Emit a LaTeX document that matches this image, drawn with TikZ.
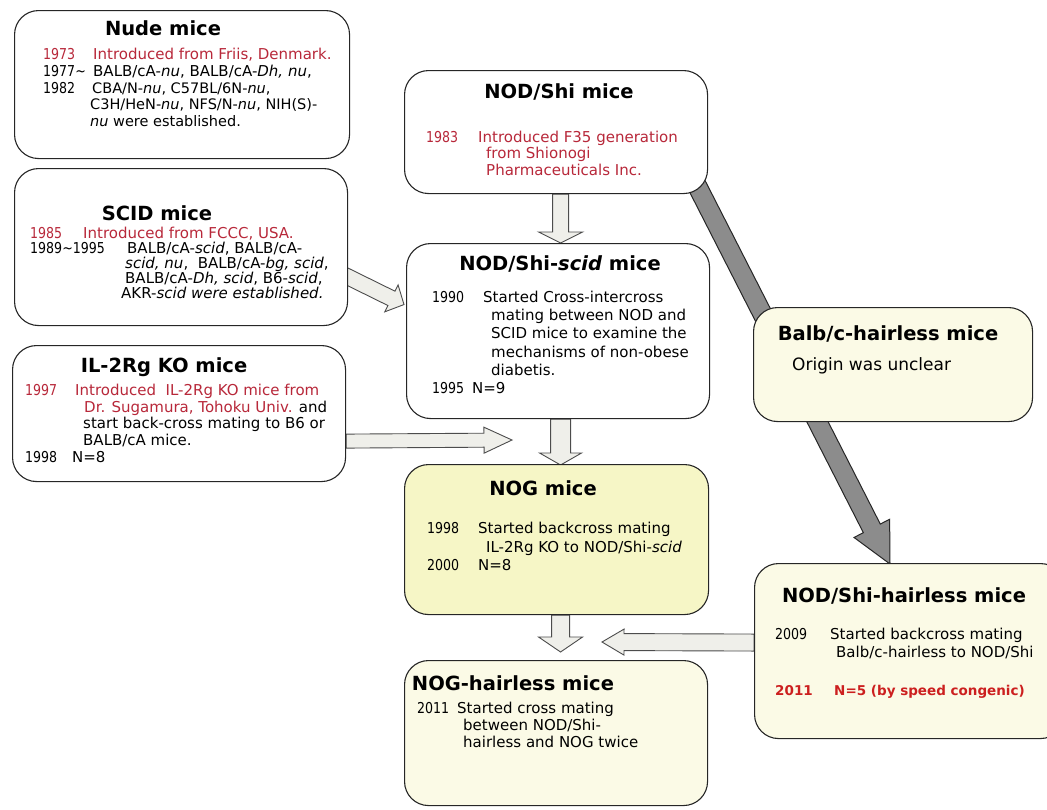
\documentclass[tikz,border=0pt]{standalone}
\usepackage{fontspec}
\usepackage{graphicx}
\setmainfont{DejaVu Sans}
\usetikzlibrary{calc,backgrounds}
\definecolor{redtxt}{HTML}{B8283A}
\definecolor{redbold}{HTML}{CC1F1F}
\definecolor{nogfill}{HTML}{F6F6C6}
\definecolor{creamfill}{HTML}{FBFAE6}
\definecolor{lightfill}{HTML}{EFEFEA}
\definecolor{darkfill}{HTML}{8C8C8C}
\newcommand{\yr}[2]{\makebox[#1][l]{\scalebox{0.84}[1]{#2}}}
\newcommand{\blockarrow}[6]{%
  \coordinate (ba-base) at ($(#3)!#6!(#2)$);
  \draw[#1] ($(#2)!#4!90:(#3)$) -- ($(ba-base)!#4!-90:(#2)$) -- ($(ba-base)!#5!-90:(#2)$)
    -- (#3) -- ($(ba-base)!#5!90:(#2)$) -- ($(ba-base)!#4!90:(#2)$) -- ($(#2)!#4!-90:(#3)$) -- cycle;}
\begin{document}
\begin{tikzpicture}[x=1pt,y=-1pt,
  box/.style={draw=black!85, line width=1.1pt, rounded corners=24pt, anchor=north west, inner sep=0pt, fill=white},
  ttl/.style={anchor=base, inner sep=0pt, font=\fontsize{19.5}{22}\selectfont\bfseries},
  tline/.style={anchor=base west, inner sep=0pt, font=\fontsize{15}{17}\selectfont},
  small/.style={font=\fontsize{14.5}{16}\selectfont},
  red/.style={text=redtxt},
  lightarrow/.style={draw=black!70, line width=0.9pt, fill=lightfill, line join=miter},
  darkarrow/.style={draw=black!85, line width=1pt, fill=darkfill, line join=miter}]
\useasboundingbox (0,0) rectangle (1047,809);
\clip (0,0) rectangle (1047,809);

% boxes
\node[box, minimum width=335pt, minimum height=148pt] (nude) at (14,10) {};
\node[box, minimum width=333pt, minimum height=157pt] (scidm) at (14,168) {};
\node[box, minimum width=333pt, minimum height=136pt] (il) at (12,345) {};
\node[box, minimum width=303pt, minimum height=123pt] (nodshi) at (404,70) {};
\node[box, minimum width=303pt, minimum height=175pt] (nodscid) at (406,243) {};
\node[box, fill=nogfill, minimum width=304pt, minimum height=150pt] (nog) at (404,464) {};
\node[box, fill=creamfill, minimum width=303pt, minimum height=145pt] (noghl) at (404,660) {};
\node[box, fill=creamfill, minimum width=279pt, minimum height=114pt] (balb) at (753,307) {};
\node[box, fill=creamfill, minimum width=310pt, minimum height=175pt] (nodshih) at (754,563) {};

% Nude
\node[ttl] (t-nude) at (163,35) {Nude mice};
\node[tline,red] (l1) at (43,59) {\yr{50pt}{1973}Introduced from Friis, Denmark.};
\node[tline] (l2) at (43,76) {\yr{50pt}{1977\textasciitilde}BALB/cA-\textit{nu}, BALB/cA-\textit{Dh, nu},};
\node[tline] (l3) at (43,93) {\yr{49pt}{1982}{\fontsize{14.5}{16}\selectfont CBA/N-\textit{nu}, C57BL/6N-\textit{nu},}};
\node[tline,small] (l4) at (90,109) {C3H/HeN-\textit{nu}, NFS/N-\textit{nu}, NIH(S)-};
\node[tline,small] (l5) at (90,126) {\textit{nu} were established.};

% SCID
\node[ttl] (t-scid) at (157,220) {SCID mice};
\node[tline,red] (l6) at (30,238) {\yr{53pt}{1985}Introduced from FCCC, USA.};
\node[tline] (l7) at (30,253) {\yr{97pt}{1989\textasciitilde1995}BALB/cA-\textit{scid}, BALB/cA-};
\node[tline] (l8) at (125,268) {\textit{scid, nu},\ \ BALB/cA-\textit{bg, scid},};
\node[tline] (l9) at (125,283) {BALB/cA-\textit{Dh, scid}, B6-\textit{scid},};
\node[tline] (l10) at (121,298) {AKR-\textit{scid were established.}};

% IL-2Rg
\node[ttl] (t-il) at (164,372) {IL-2Rg KO mice};
\node[tline,red] (l11) at (25,395) {\yr{50pt}{1997}Introduced\ \ IL-2Rg KO mice from};
\node[tline] (l12) at (84,412) {\textcolor{redtxt}{Dr. Sugamura, Tohoku Univ.} and};
\node[tline] (l13) at (83,428) {start back-cross mating to B6 or};
\node[tline] (l14) at (83,445) {BALB/cA mice.};
\node[tline] (l15) at (25,462) {\yr{47pt}{1998}N=8};

% NOD/Shi
\node[ttl] (t-nodshi) at (559,98) {NOD/Shi mice};
\node[tline,red] (l16) at (426,142) {\yr{52pt}{1983}Introduced F35 generation};
\node[tline,red] (l17) at (486,158) {from Shionogi};
\node[tline,red] (l18) at (486,175) {Pharmaceuticals Inc.};

% NOD/Shi-scid
\node[ttl] (t-nodscid) at (560,270) {NOD/Shi-\textit{scid} mice};
\node[tline] (l19) at (432,302) {\yr{51pt}{1990}Started Cross-intercross};
\node[tline] (l20) at (491,320) {mating between NOD and};
\node[tline] (l21) at (491,338) {SCID mice to examine the};
\node[tline] (l22) at (491,357) {mechanisms of non-obese};
\node[tline] (l23) at (491,375) {diabetis.};
\node[tline] (l24) at (432,393) {\yr{40pt}{1995}N=9};

% NOG
\node[ttl] (t-nog) at (543,495) {NOG mice};
\node[tline] (l25) at (427,533) {\yr{51pt}{1998}Started backcross mating};
\node[tline] (l26) at (486,552) {IL-2Rg KO to NOD/Shi-\textit{scid}};
\node[tline] (l27) at (427,570) {\yr{51pt}{2000}N=8};

% NOG-hairless
\node[ttl] (t-noghl) at (513,690) {NOG-hairless mice};
\node[tline] (l28) at (417,713) {\yr{40pt}{2011}Started cross mating};
\node[tline] (l29) at (463,730) {between NOD/Shi-};
\node[tline] (l30) at (463,747) {hairless and NOG twice};

% Balb/c-hairless
\node[ttl] (t-balb) at (888,340) {Balb/c-hairless mice};
\node[tline, font=\fontsize{17}{19}\selectfont] (l31) at (792,370) {Origin was unclear};

% NOD/Shi-hairless
\node[ttl] (t-nodshih) at (904,602) {NOD/Shi-hairless mice};
\node[tline] (l32) at (775,639) {\yr{55pt}{2009}Started backcross mating};
\node[tline] (l33) at (836,657) {Balb/c-hairless to NOD/Shi};
\node[tline, text=redbold, font=\fontsize{13.5}{15}\selectfont\bfseries] (l34) at (775,695) {\makebox[59pt][l]{2011}N=5 (by speed congenic)};

% arrows
\coordinate (a1s) at ($(nodshi.south)+(4.5,0)$);
\coordinate (a1e) at ($(nodscid.north)+(2.5,0)$);
\coordinate (a2s) at ($(nodscid.south)+(2.5,0)$);
\coordinate (a2e) at ($(nog.north)+(4,1)$);
\coordinate (a3s) at ($(nog.south)+(4,0)$);
\coordinate (a3e) at ($(noghl.north)+(4.5,-8)$);
\coordinate (a4s) at ($(il.south east)+(0,-41)$);
\coordinate (a4e) at (512,440);
\coordinate (a5s) at ($(nodshih.west)+(0,-8.5)$);
\coordinate (a5e) at (602,642);
\coordinate (a6s) at (338,272);
\coordinate (a6e) at ($(nodscid.west)+(-2,-26.5)$);
\coordinate (a7s) at (688,168);
\coordinate (a7e) at ($(nodshih.north west)+(136,1)$);
\begin{pgfonlayer}{background}
\blockarrow{darkarrow}{a7s}{a7e}{9.5pt}{20pt}{40pt}
\blockarrow{lightarrow}{a1s}{a1e}{8pt}{22pt}{11pt}
\blockarrow{lightarrow}{a2s}{a2e}{10pt}{21pt}{12pt}
\blockarrow{lightarrow}{a3s}{a3e}{9pt}{22pt}{15pt}
\blockarrow{lightarrow}{a4s}{a4e}{7pt}{13pt}{28pt}
\blockarrow{lightarrow}{a5s}{a5e}{8.5pt}{13pt}{22pt}
\blockarrow{lightarrow}{a6s}{a6e}{8pt}{15pt}{14pt}
\end{pgfonlayer}
\end{tikzpicture}
\end{document}
